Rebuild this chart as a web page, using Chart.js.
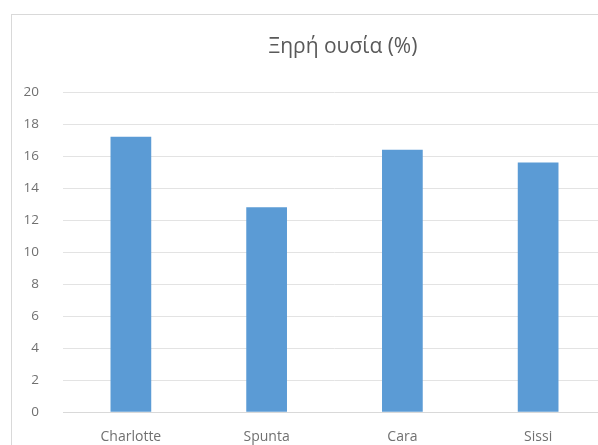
<!DOCTYPE html>
<html>
<head>
<meta charset="utf-8">
<script src="https://cdn.jsdelivr.net/npm/chart.js@4"></script>
<style>
  html, body { margin: 0; padding: 0; background: #ffffff; overflow: hidden; }
  #wrap { position: absolute; left: 0; top: 0; width: 682px; height: 461px; }
</style>
</head>
<body>
<div id="wrap"><canvas id="c" width="682" height="461"></canvas></div>
<script>
// Dry matter content by potato variety
const categories = ['Charlotte', 'Spunta', 'Cara', 'Sissi'];
const dryMatter = [17.2, 12.8, 16.4, 15.6];
const yTicks = [0, 2, 4, 6, 8, 10, 12, 14, 16, 18, 20];
const chartTitle = 'Ξηρή ουσία (%)';

const TEXT_GREY = '#707070';

// Light frame around the whole chart, and the title centred on that frame
const framePlugin = {
  id: 'frame',
  beforeDraw(chart) {
    const ctx = chart.ctx;
    ctx.save();
    ctx.strokeStyle = '#d9d9d9';
    ctx.lineWidth = 1;
    ctx.strokeRect(11.5, 14.5, 800, 600);
    ctx.restore();
  },
  afterDraw(chart) {
    const ctx = chart.ctx;
    ctx.save();
    ctx.fillStyle = '#595959';
    ctx.font = '21px "Open Sans"';
    ctx.textAlign = 'center';
    ctx.textBaseline = 'alphabetic';
    ctx.fillText(chartTitle, 343, 53);
    ctx.restore();
  }
};

new Chart(document.getElementById('c'), {
  type: 'bar',
  data: {
    labels: categories,
    datasets: [{
      data: dryMatter,
      backgroundColor: '#5b9bd5',
      borderWidth: 0,
      categoryPercentage: 1,
      barPercentage: 0.30
    }]
  },
  options: {
    responsive: false,
    animation: false,
    devicePixelRatio: 1,
    layout: { padding: { left: 0, right: 76, top: 92, bottom: 0 } },
    plugins: {
      legend: { display: false },
      tooltip: { enabled: false },
      title: { display: false }
    },
    scales: {
      x: {
        grid: { display: false, drawTicks: false },
        border: { display: true, color: '#d9d9d9' },
        ticks: {
          color: TEXT_GREY,
          font: { family: 'Open Sans', size: 14 },
          padding: 16
        }
      },
      y: {
        min: 0,
        max: 20,
        afterBuildTicks(axis) { axis.ticks = yTicks.map(v => ({ value: v })); },
        afterFit(axis) { axis.width = 63; },
        grid: { color: '#e3e3e3', drawTicks: false },
        border: { display: false },
        ticks: {
          color: TEXT_GREY,
          font: { family: 'Open Sans', size: 13.5 },
          padding: 24
        }
      }
    }
  },
  plugins: [framePlugin]
});
</script>
</body>
</html>
